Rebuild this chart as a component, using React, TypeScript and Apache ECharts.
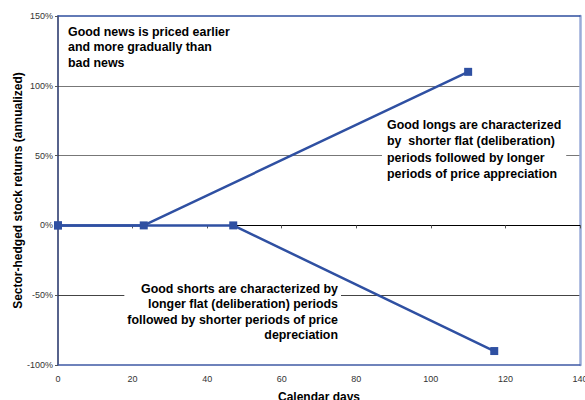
import React, { useEffect, useRef } from "react";
import * as echarts from "echarts";

const longsDays = [0, 23, 110];
const longsReturns = [0, 0, 1.1];
const shortsDays = [0, 47, 117];
const shortsReturns = [0, 0, -0.9];
const xTicks = { min: 0, max: 140, interval: 20 };
const yTicks = { min: -1, max: 1.5, interval: 0.5 };

const noteGood = "Good news is priced earlier\nand more gradually than\nbad news";
const noteLongs =
  "Good longs are characterized\nby  shorter flat (deliberation)\nperiods followed by longer\nperiods of price appreciation";
const noteShorts =
  "Good shorts are characterized by\nlonger flat (deliberation) periods\nfollowed by shorter periods of price\ndepreciation";

const FONT = '"Liberation Sans", Arial, Helvetica, sans-serif';
const LINE = "#2f50a2";

export default function App() {
  const ref = useRef<HTMLDivElement>(null);
  useEffect(() => {
    if (!ref.current) return;
    const chart = echarts.init(ref.current, null, { renderer: "svg" });
    const labelStyle = { fontSize: 9, color: "#333", fontFamily: FONT };
    const nameStyle = { fontSize: 12, fontWeight: "bold" as const, color: "#000", fontFamily: FONT };
    chart.setOption({
      animation: false,
      backgroundColor: "#fff",
      grid: { left: 58, top: 16, right: 5, bottom: 35, containLabel: false, outerBoundsMode: "none" },
      xAxis: [
        {
          type: "value",
          ...xTicks,
          position: "bottom",
          axisLine: { onZero: false, lineStyle: { color: "#3f5aa5", width: 1.5 } },
          axisTick: { show: false },
          axisLabel: { ...labelStyle, margin: 9 },
          splitLine: { show: false },
          name: "Calendar days",
          nameLocation: "middle",
          nameGap: 26,
          nameTextStyle: nameStyle,
        },
        {
          type: "value",
          ...xTicks,
          position: "bottom",
          axisLine: { onZero: true, lineStyle: { color: "#000", width: 1 } },
          axisTick: { show: true, length: 3, lineStyle: { color: "#555" } },
          axisLabel: { show: false },
          splitLine: { show: false },
        },
        {
          type: "value",
          ...xTicks,
          position: "top",
          axisLine: { onZero: false, lineStyle: { color: "#2f4f9f", width: 1.5 } },
          axisTick: { show: false },
          axisLabel: { show: false },
          splitLine: { show: false },
        },
      ],
      yAxis: [
        {
          type: "value",
          ...yTicks,
          position: "left",
          axisLine: { show: true, onZero: false, lineStyle: { color: "#1f2f66", width: 1.5 } },
          axisTick: { show: true, length: 3, lineStyle: { color: "#555" } },
          axisLabel: {
            ...labelStyle,
            margin: 5,
            formatter: (v: number) => `${Math.round(v * 100)}%`,
          },
          splitLine: {
            show: true,
            lineStyle: {
              color: ["transparent", "#444", "transparent", "#777", "#777", "transparent"],
              width: 1,
            },
          },
          name: "Sector-hedged stock returns (annualized)",
          nameLocation: "middle",
          nameGap: 34,
          nameMoveOverlap: false,
          nameTextStyle: nameStyle,
        },
        {
          type: "value",
          ...yTicks,
          position: "right",
          axisLine: { show: true, onZero: false, lineStyle: { color: "#9aabd8", width: 2.5 } },
          axisTick: { show: false },
          axisLabel: { show: false },
          splitLine: { show: false },
        },
      ],
      series: [
        {
          type: "line",
          xAxisIndex: 0,
          yAxisIndex: 0,
          data: longsDays.map((d, i) => [d, longsReturns[i]]),
          symbol: "rect",
          symbolSize: 8,
          lineStyle: { color: LINE, width: 2.5 },
          itemStyle: { color: LINE },
          z: 5,
        },
        {
          type: "line",
          xAxisIndex: 0,
          yAxisIndex: 0,
          data: shortsDays.map((d, i) => [d, shortsReturns[i]]),
          symbol: "rect",
          symbolSize: 8,
          lineStyle: { color: LINE, width: 2.5 },
          itemStyle: { color: LINE },
          z: 5,
        },
      ],
      graphic: [
        {
          type: "text",
          x: 68,
          y: 24,
          z: 10,
          style: {
            text: noteGood,
            font: `bold 12.4px ${FONT}`,
            fill: "#000",
            lineHeight: 15.5,
            align: "left",
            verticalAlign: "top",
          },
        },
        {
          type: "text",
          x: 382,
          y: 116,
          z: 10,
          style: {
            text: noteLongs,
            font: `bold 12.4px ${FONT}`,
            fill: "#000",
            lineHeight: 16.2,
            align: "left",
            verticalAlign: "top",
            backgroundColor: "#fff",
            padding: [1, 5, 1, 5],
          },
        },
        {
          type: "text",
          x: 341,
          y: 280,
          z: 10,
          style: {
            text: noteShorts,
            font: `bold 12.4px ${FONT}`,
            fill: "#000",
            lineHeight: 15.5,
            align: "right",
            verticalAlign: "top",
            backgroundColor: "#fff",
            padding: [1, 3, 1, 3],
          },
        },
      ],
    });
    return () => chart.dispose();
  }, []);
  return (
    <div
      ref={ref}
      style={{ position: "fixed", left: 0, top: 0, width: 585, height: 400, background: "#fff" }}
    />
  );
}
